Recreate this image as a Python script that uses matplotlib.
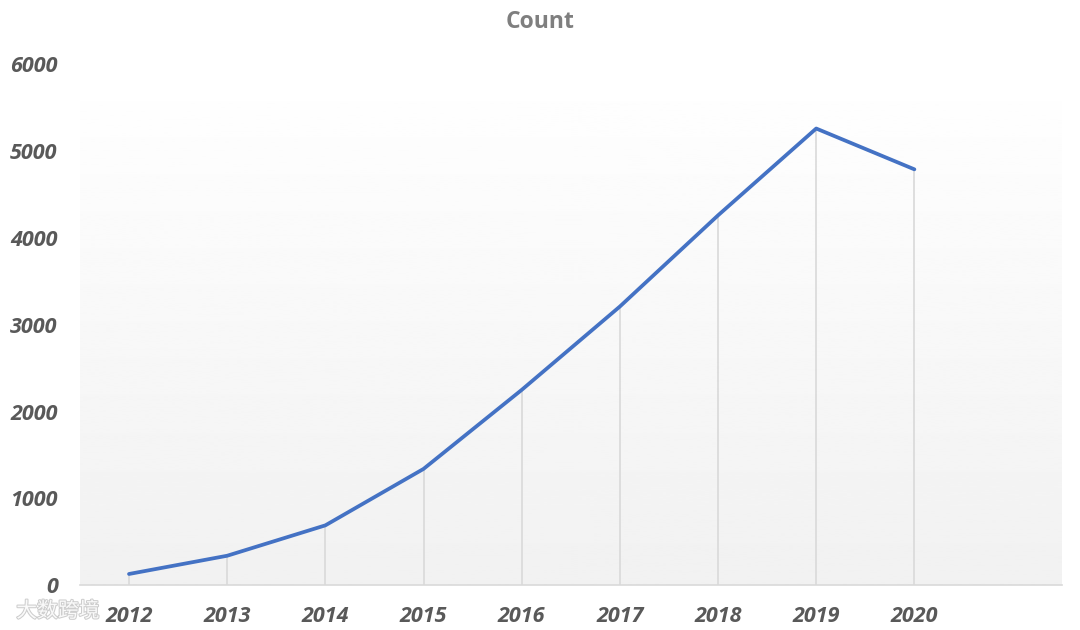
import numpy as np
import matplotlib.pyplot as plt
import matplotlib.patheffects as pe

years = ['2012', '2013', '2014', '2015', '2016', '2017', '2018', '2019', '2020']
counts = [130, 340, 690, 1340, 2250, 3210, 4260, 5260, 4790]
y_ticks = [0, 1000, 2000, 3000, 4000, 5000, 6000]

fig = plt.figure(figsize=(10.8, 6.3), dpi=100)
ax = fig.add_axes([0.074, 0.071, 0.909, 0.827])

x = np.arange(len(years))

# soft gradient background, white at top to light gray at bottom
grad = np.linspace(1.0, 0.945, 256).reshape(-1, 1)
ax.imshow(grad, cmap='gray', vmin=0, vmax=1, aspect='auto',
          extent=(-0.5, 9.5, 0, 6000), origin='upper', zorder=0)

ax.vlines(x, 0, counts, color='#d9d9d9', lw=1.2, zorder=1)
ax.plot(x, counts, color='#4472C4', lw=2.7, zorder=2, solid_capstyle='round')

ax.set_xlim(-0.5, 9.5)
ax.set_ylim(0, 6000)
ax.set_xticks(x)
ax.set_xticklabels(years)
ax.set_yticks(y_ticks)
ax.set_yticklabels([str(v) for v in y_ticks])

for s in ['top', 'right', 'left']:
    ax.spines[s].set_visible(False)
ax.spines['bottom'].set_color('#d9d9d9')
ax.spines['bottom'].set_linewidth(1.2)
ax.tick_params(length=0, labelsize=15.5, labelcolor='#595959')
ax.tick_params(axis='x', pad=15)
ax.tick_params(axis='y', pad=16)
for lab in ax.get_xticklabels() + ax.get_yticklabels():
    lab.set_family('Open Sans')
    lab.set_fontweight('bold')
    lab.set_fontstyle('italic')

fig.text(0.5, 0.965, 'Count', ha='center', va='center', fontsize=16.5,
         fontweight='bold', color='#7f7f7f', family='Open Sans')

# watermark
fig.text(0.015, 0.03, '大数跨境', fontsize=15, color='white', alpha=0.9,
         family=['Noto Sans CJK SC', 'DejaVu Sans'], va='center',
         path_effects=[pe.withStroke(linewidth=1.5, foreground='#c8c8c8')])

fig.savefig('out.png', dpi=100)
